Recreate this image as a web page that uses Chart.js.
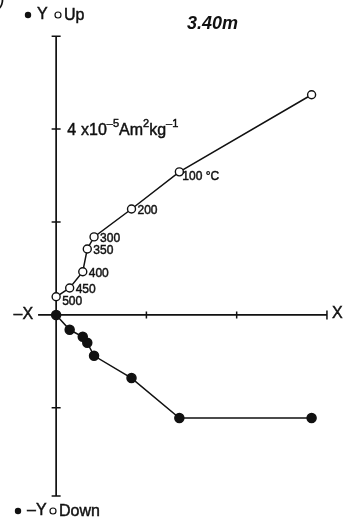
<!DOCTYPE html>
<html>
<head>
<meta charset="utf-8">
<script src="https://cdn.jsdelivr.net/npm/chart.js@4/dist/chart.umd.min.js"></script>
<style>
  html, body { margin: 0; padding: 0; background: #fff; }
  #wrap { width: 351px; height: 521px; position: relative; }
</style>
</head>
<body>
<div id="wrap"><canvas id="zplot"></canvas></div>
<script>
// Demagnetization steps (NRM, then °C)
const steps = ["NRM", "100", "200", "300", "350", "400", "450", "500"];
const stepLabels = ["", "100 °C", "200", "300", "350", "400", "450", "500"];
// Components in units of 1e-5 Am2/kg
const xComp = [5.66, 2.73, 1.67, 0.84, 0.69, 0.59, 0.30, 0.00];
const upComp = [4.74, 3.08, 2.28, 1.68, 1.42, 0.93, 0.58, 0.39];
const yComp = [-2.22, -2.22, -1.36, -0.88, -0.60, -0.47, -0.32, 0.00];
// Axis extents and tick values (same units)
const xTicks = [2, 4];
const yTicks = [-2, 2, 4];
const xAxisEnds = [-0.4, 6];
const yAxisEnds = [-3.9, 6];

const font = "'Liberation Sans', Arial, sans-serif";

// fill + thin stroke so the lettering reads a bit heavier
function inkText(ctx, s, x, y) {
  ctx.fillText(s, x, y);
  ctx.lineWidth = 0.45;
  ctx.strokeText(s, x, y);
}

const axesPlugin = {
  id: "zAxes",
  beforeDatasetsDraw(chart) {
    const ctx = chart.ctx;
    const xs = chart.scales.x, ys = chart.scales.y;
    const ox = xs.getPixelForValue(0), oy = ys.getPixelForValue(0);
    ctx.save();
    ctx.strokeStyle = "#111";
    ctx.lineWidth = 1.7;
    ctx.beginPath();
    // horizontal axis
    ctx.moveTo(xs.getPixelForValue(xAxisEnds[0]), oy);
    ctx.lineTo(xs.getPixelForValue(xAxisEnds[1]), oy);
    // vertical axis
    ctx.moveTo(ox, ys.getPixelForValue(yAxisEnds[0]));
    ctx.lineTo(ox, ys.getPixelForValue(yAxisEnds[1]));
    ctx.stroke();
    // tick marks and end caps
    ctx.lineWidth = 1.5;
    ctx.beginPath();
    xTicks.forEach(v => {
      const px = xs.getPixelForValue(v);
      ctx.moveTo(px, oy - 3.5); ctx.lineTo(px, oy + 3.5);
    });
    const xe = xs.getPixelForValue(xAxisEnds[1]);
    ctx.moveTo(xe, oy - 4.5); ctx.lineTo(xe, oy + 4.5);
    yTicks.forEach(v => {
      const py = ys.getPixelForValue(v);
      ctx.moveTo(ox - 4.5, py); ctx.lineTo(ox + 4.5, py);
    });
    yAxisEnds.forEach(v => {
      const py = ys.getPixelForValue(v);
      ctx.moveTo(ox - 4.5, py); ctx.lineTo(ox + 4.5, py);
    });
    ctx.stroke();
    ctx.restore();
  },
  afterDatasetsDraw(chart) {
    const ctx = chart.ctx;
    const xs = chart.scales.x, ys = chart.scales.y;
    const ox = xs.getPixelForValue(0), oy = ys.getPixelForValue(0);
    ctx.save();
    ctx.fillStyle = "#111";
    ctx.strokeStyle = "#111";
    ctx.textBaseline = "middle";

    // step labels next to the open symbols
    ctx.font = "12px " + font;
    stepLabels.forEach((t, i) => {
      if (!t) return;
      const px = xs.getPixelForValue(xComp[i]);
      const py = ys.getPixelForValue(upComp[i]);
      const dx = i === 1 ? 3 : 6;
      const dy = i === 1 ? 5 : (i === 7 ? 5 : 2);
      inkText(ctx, t, px + dx, py + dy);
    });

    // axis end labels
    ctx.font = "16px " + font;
    ctx.textAlign = "right";
    inkText(ctx, "\u2013X", xs.getPixelForValue(xAxisEnds[0]) - 5, oy);
    ctx.textAlign = "left";
    inkText(ctx, "X", xs.getPixelForValue(xAxisEnds[1]) + 5, oy - 1);

    // keys at the ends of the vertical axis
    const key = (y, bx, parts) => {
      ctx.beginPath(); ctx.arc(bx, y, 3.2, 0, Math.PI * 2); ctx.fill();
      ctx.font = "16px " + font;
      inkText(ctx, parts[0], parts[1], y);
      ctx.lineWidth = 1.2;
      ctx.beginPath(); ctx.arc(parts[2], y, 3, 0, Math.PI * 2); ctx.stroke();
      inkText(ctx, parts[3], parts[4], y + 1);
    };
    key(15, 28, ["Y", 37, 58, "Up", 64]);
    key(511, 18, ["\u2013Y", 27, 53, "Down", 59]);

    // scale note at the 4e-5 tick
    let x = ox + 11;
    const by = ys.getPixelForValue(4) + 6;
    ctx.textBaseline = "alphabetic";
    const seg = (s, size, rise) => {
      ctx.font = size + "px " + font;
      inkText(ctx, s, x, by - rise);
      x += ctx.measureText(s).width;
    };
    seg("4", 16, 0); x += 5;
    seg("x10", 16, 0);
    seg("\u20135", 11, 8);
    seg("Am", 16, 0);
    seg("2", 11, 8);
    seg("kg", 16, 0);
    seg("\u20131", 11, 8);

    // sample depth
    ctx.font = "italic bold 18px " + font;
    ctx.fillText("3.40m", 187, 29);

    // figure label remnant in the corner
    ctx.font = "20px " + font;
    ctx.fillText(")", -2, 5);
    ctx.restore();
  }
};

new Chart(document.getElementById("zplot"), {
  type: "scatter",
  data: {
    labels: steps,
    datasets: [
      {
        label: "Up",
        data: xComp.map((v, i) => ({ x: v, y: upComp[i] })),
        showLine: true,
        borderColor: "#111",
        borderWidth: 1.5,
        pointBackgroundColor: "#fff",
        pointBorderColor: "#111",
        pointBorderWidth: 1.4,
        pointRadius: 4,
        order: 0
      },
      {
        label: "Down",
        data: xComp.map((v, i) => ({ x: v, y: yComp[i] })),
        showLine: true,
        borderColor: "#111",
        borderWidth: 1.5,
        pointBackgroundColor: "#111",
        pointBorderColor: "#111",
        pointRadius: 4.5,
        order: 1
      }
    ]
  },
  options: {
    responsive: true,
    maintainAspectRatio: false,
    animation: false,
    layout: { padding: { left: 11, right: 2, top: 13, bottom: 11 } },
    plugins: { legend: { display: false }, tooltip: { enabled: false } },
    scales: {
      x: { type: "linear", min: -1, max: 6.4, display: false },
      y: { type: "linear", min: -4.2, max: 6.5, display: false }
    }
  },
  plugins: [axesPlugin]
});
</script>
</body>
</html>
